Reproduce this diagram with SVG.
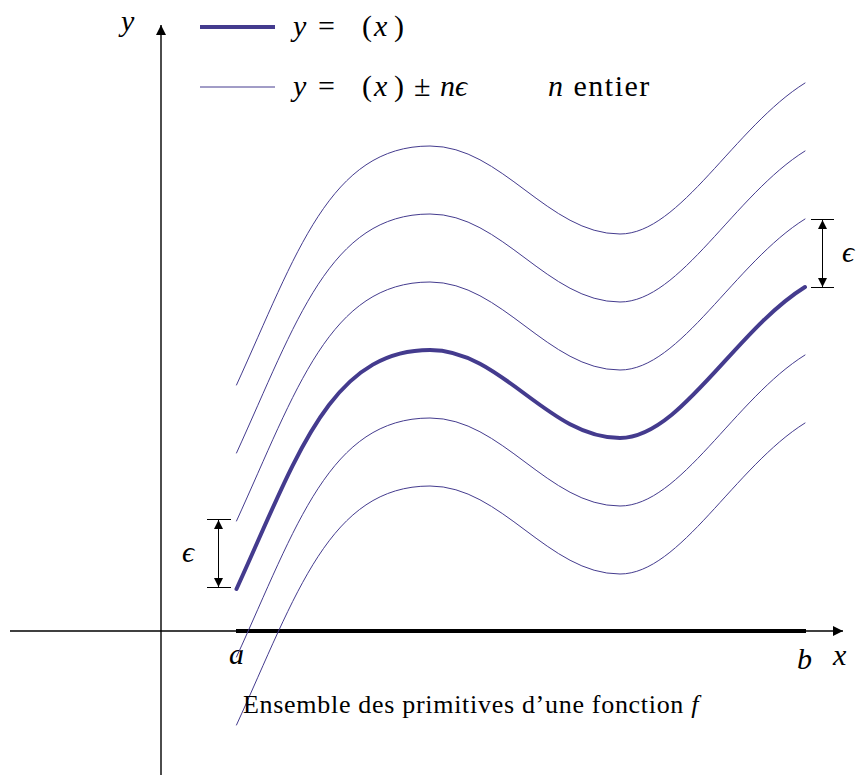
<svg xmlns="http://www.w3.org/2000/svg" xmlns:xlink="http://www.w3.org/1999/xlink" width="858" height="777" viewBox="0 0 858 777">
<style>
.curve{fill:none;stroke:#443b8e;stroke-linecap:round}
.thick{stroke-width:4}
.thin{stroke-width:1}
.ax{stroke:#000;stroke-width:1.4;fill:none}
.dim{stroke:#000;stroke-width:1;fill:none}
.t{font-family:"Liberation Serif","Times New Roman",serif;fill:#000}
.m{font-style:italic}
</style>
<defs>
<path id="f" d="M236.5,589 C296.5,457.6 330,350 430,350 C502,350 548,438 620,438 C680,438 735,330.4 805,287"/>
<marker id="ah" viewBox="0 0 10 10" refX="10" refY="5" markerWidth="10" markerHeight="10" markerUnits="userSpaceOnUse" orient="auto-start-reverse">
<path d="M0,0 L10,5 L0,10 Z" fill="#000"/>
</marker>
<marker id="dh" viewBox="0 0 10 10" refX="10" refY="5" markerWidth="9" markerHeight="9" markerUnits="userSpaceOnUse" orient="auto-start-reverse">
<path d="M0,0 L10,5 L0,10 Z" fill="#000"/>
</marker>
</defs>
<g id="axes">
<line class="ax" x1="10" y1="631" x2="843" y2="631" marker-end="url(#ah)"/>
<line class="ax" x1="161" y1="775" x2="161" y2="25" marker-end="url(#ah)"/>
<line x1="236" y1="631" x2="806" y2="631" stroke="#000" stroke-width="4"/>
<text class="t m" x="121" y="31" font-size="30">y</text>
<text class="t m" x="833" y="665" font-size="30">x</text>
<text class="t m" x="229" y="664" font-size="30">a</text>
<text class="t m" x="797" y="669" font-size="30">b</text>
</g>
<g id="curves">
<use xlink:href="#f" class="curve thin" transform="translate(0,-204)"/>
<use xlink:href="#f" class="curve thin" transform="translate(0,-136)"/>
<use xlink:href="#f" class="curve thin" transform="translate(0,-68)"/>
<use xlink:href="#f" class="curve thin" transform="translate(0,68)"/>
<use xlink:href="#f" class="curve thin" transform="translate(0,136)"/>
<use xlink:href="#f" class="curve thick"/>
</g>
<g id="eps-left">
<line class="dim" x1="207" y1="519.5" x2="231" y2="519.5"/>
<line class="dim" x1="207" y1="587.5" x2="231" y2="587.5"/>
<line class="dim" x1="218.5" y1="520" x2="218.5" y2="587" marker-start="url(#dh)" marker-end="url(#dh)"/>
<text class="t m" x="182" y="562" font-size="30">ϵ</text>
</g>
<g id="eps-right">
<line class="dim" x1="811" y1="219.5" x2="834" y2="219.5"/>
<line class="dim" x1="811" y1="287.5" x2="834" y2="287.5"/>
<line class="dim" x1="822.5" y1="220" x2="822.5" y2="287" marker-start="url(#dh)" marker-end="url(#dh)"/>
<text class="t m" x="842" y="262" font-size="30">ϵ</text>
</g>
<g id="legend">
<line x1="200" y1="27" x2="275" y2="27" stroke="#443b8e" stroke-width="4"/>
<text class="t" x="293" y="36" font-size="30"><tspan class="m">y</tspan><tspan x="318">=</tspan><tspan x="362">(</tspan><tspan class="m" x="374">x</tspan><tspan x="394">)</tspan></text>
<line x1="200" y1="87" x2="275" y2="87" stroke="#443b8e" stroke-width="1"/>
<text class="t" x="293" y="96" font-size="30"><tspan class="m">y</tspan><tspan x="318">=</tspan><tspan x="362">(</tspan><tspan class="m" x="374">x</tspan><tspan x="394">)</tspan><tspan x="414">±</tspan><tspan class="m" x="440">nϵ</tspan></text>
<text class="t" x="548" y="96" font-size="30" letter-spacing="1.5"><tspan class="m">n</tspan> entier</text>
</g>
<g id="caption">
<text class="t" x="243" y="713" font-size="26" letter-spacing="0.7">Ensemble des primitives d’une fonction <tspan class="m">f</tspan></text>
</g>
</svg>
